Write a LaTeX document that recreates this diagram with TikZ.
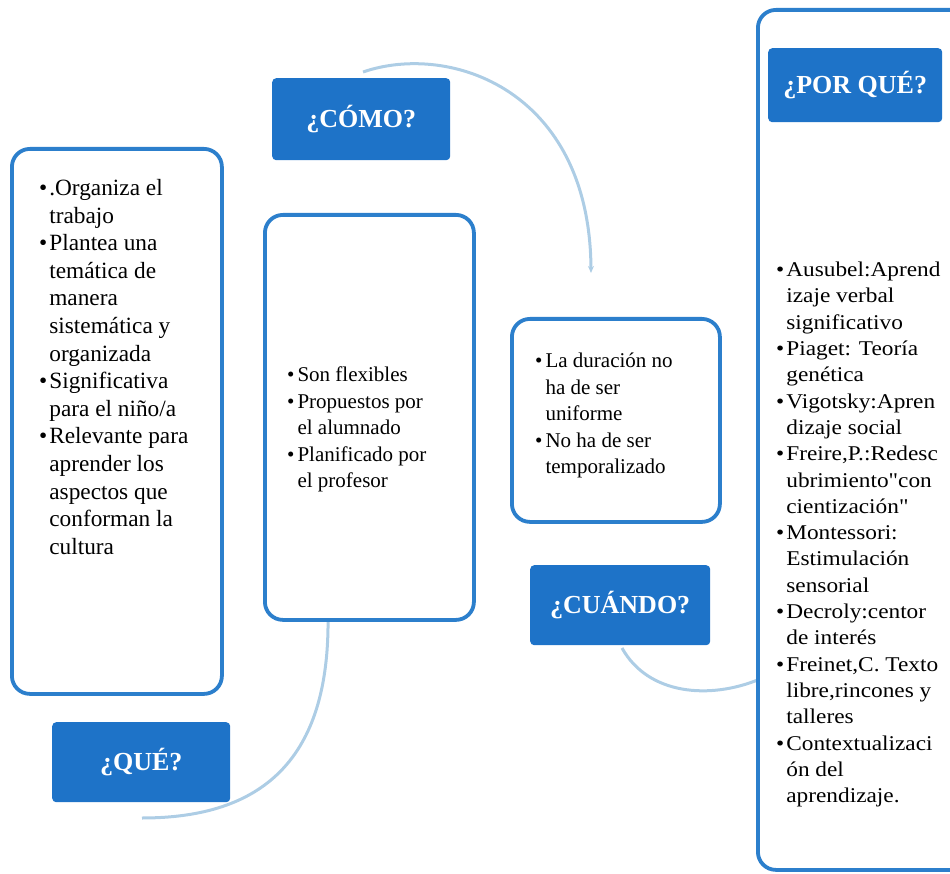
\documentclass[tikz,border=0pt]{standalone}
\usepackage{fontspec}
\setmainfont{Liberation Serif}
\newfontfamily\plainq{Liberation Serif}[FakeStretch=1.11]
\usetikzlibrary{arrows.meta}
\definecolor{boxblue}{HTML}{2C7FCC}
\definecolor{headblue}{HTML}{1E73C8}
\definecolor{arcblue}{HTML}{ADCDE5}
\tikzset{
  frame/.style={draw=boxblue, line width=3.8pt, rounded corners=18pt, fill=white, anchor=north west, inner sep=0pt},
  head/.style={fill=headblue, rounded corners=4pt, text=white, anchor=north west, inner sep=0pt,
    font=\fontsize{26}{30}\selectfont\bfseries},
  body/.style={anchor=north west, inner sep=0pt, font=\fontsize{21}{26.5}\selectfont, align=left},
  bigbody/.style={body, font=\fontsize{23.3}{27.6}\selectfont},
  widebody/.style={body, font=\addfontfeature{FakeStretch=1.11}\fontsize{21}{26.3}\selectfont},
  arcline/.style={draw=arcblue, line width=3pt},
}
\newcommand{\bul}{\textbullet}
\newcommand{\sq}{{\plainq"}}
\begin{document}
\begin{tikzpicture}[x=1pt,y=-1pt]
\useasboundingbox (0,0) rectangle (950,874);
\clip (0,0) rectangle (950,874);

% connector arcs (drawn first, under the boxes)
\coordinate (a1s) at (328,616);
\coordinate (a1e) at (142,818);
\coordinate (a2s) at (363,72);
\coordinate (a2e) at (591,273);
\coordinate (a3s) at (622,648);
\coordinate (a3e) at (760,679);
\draw[arcline] (a1s) .. controls (330,760) and (262,818) .. (a1e);
\draw[arcline, -{Stealth[length=7pt,width=6pt]}] (a2s) .. controls (450,42) and (590,90) .. (a2e);
\draw[arcline] (a3s) .. controls (648,695) and (710,700) .. (a3e);

% frames
\node[frame, minimum width=210pt, minimum height=545pt] (b1) at (10,147) {};
\node[frame, minimum width=209pt, minimum height=405pt] (b2) at (263,213) {};
\node[frame, minimum width=208pt, minimum height=203pt] (b3) at (510,317) {};
\node[frame, minimum width=240pt, minimum height=860pt] (b4) at (756,8) {};

% headers
\node[head, minimum width=178pt, minimum height=82pt] (h1) at (272,78) {¿CÓMO?};
\node[head, minimum width=178pt, minimum height=80pt] (h2) at (52,722) {¿QUÉ?};
\node[head, minimum width=180pt, minimum height=80pt] (h3) at (530,565) {¿CUÁNDO?};
\node[head, minimum width=174pt, minimum height=74pt] (h4) at (768,48) {¿POR QUÉ?};

% texts
\node[bigbody] (t1) at (39,176) {\begin{tabular}{@{}l@{\hspace{2pt}}l@{}}
\bul & .Organiza el\\
 & trabajo\\
\bul & Plantea una\\
 & temática de\\
 & manera\\
 & sistemática y\\
 & organizada\\
\bul & Significativa\\
 & para el niño/a\\
\bul & Relevante para\\
 & aprender los\\
 & aspectos que\\
 & conforman la\\
 & cultura
\end{tabular}};

\node[body] (t2) at (287,363) {\begin{tabular}{@{}l@{\hspace{3pt}}l@{}}
\bul & Son flexibles\\
\bul & Propuestos por\\
 & el alumnado\\
\bul & Planificado por\\
 & el profesor
\end{tabular}};

\node[body] (t3) at (535,349) {\begin{tabular}{@{}l@{\hspace{3pt}}l@{}}
\bul & La duración no\\
 & ha de ser\\
 & uniforme\\
\bul & No ha de ser\\
 & temporalizado
\end{tabular}};

\node[widebody] (t4) at (776,258) {\begin{tabular}{@{}l@{\hspace{2pt}}l@{}}
\bul & Ausubel:Aprend\\
 & izaje verbal\\
 & significativo\\
\bul & Piaget: Teoría\\
 & genética\\
\bul & Vigotsky:Apren\\
 & dizaje social\\
\bul & Freire,P.:Redesc\\
 & ubrimiento\sq con\\
 & cientización\sq\\
\bul & Montessori:\\
 & Estimulación\\
 & sensorial\\
\bul & Decroly:centor\\
 & de interés\\
\bul & Freinet,C. Texto\\
 & libre,rincones y\\
 & talleres\\
\bul & Contextualizaci\\
 & ón del\\
 & aprendizaje.
\end{tabular}};
\end{tikzpicture}
\end{document}
